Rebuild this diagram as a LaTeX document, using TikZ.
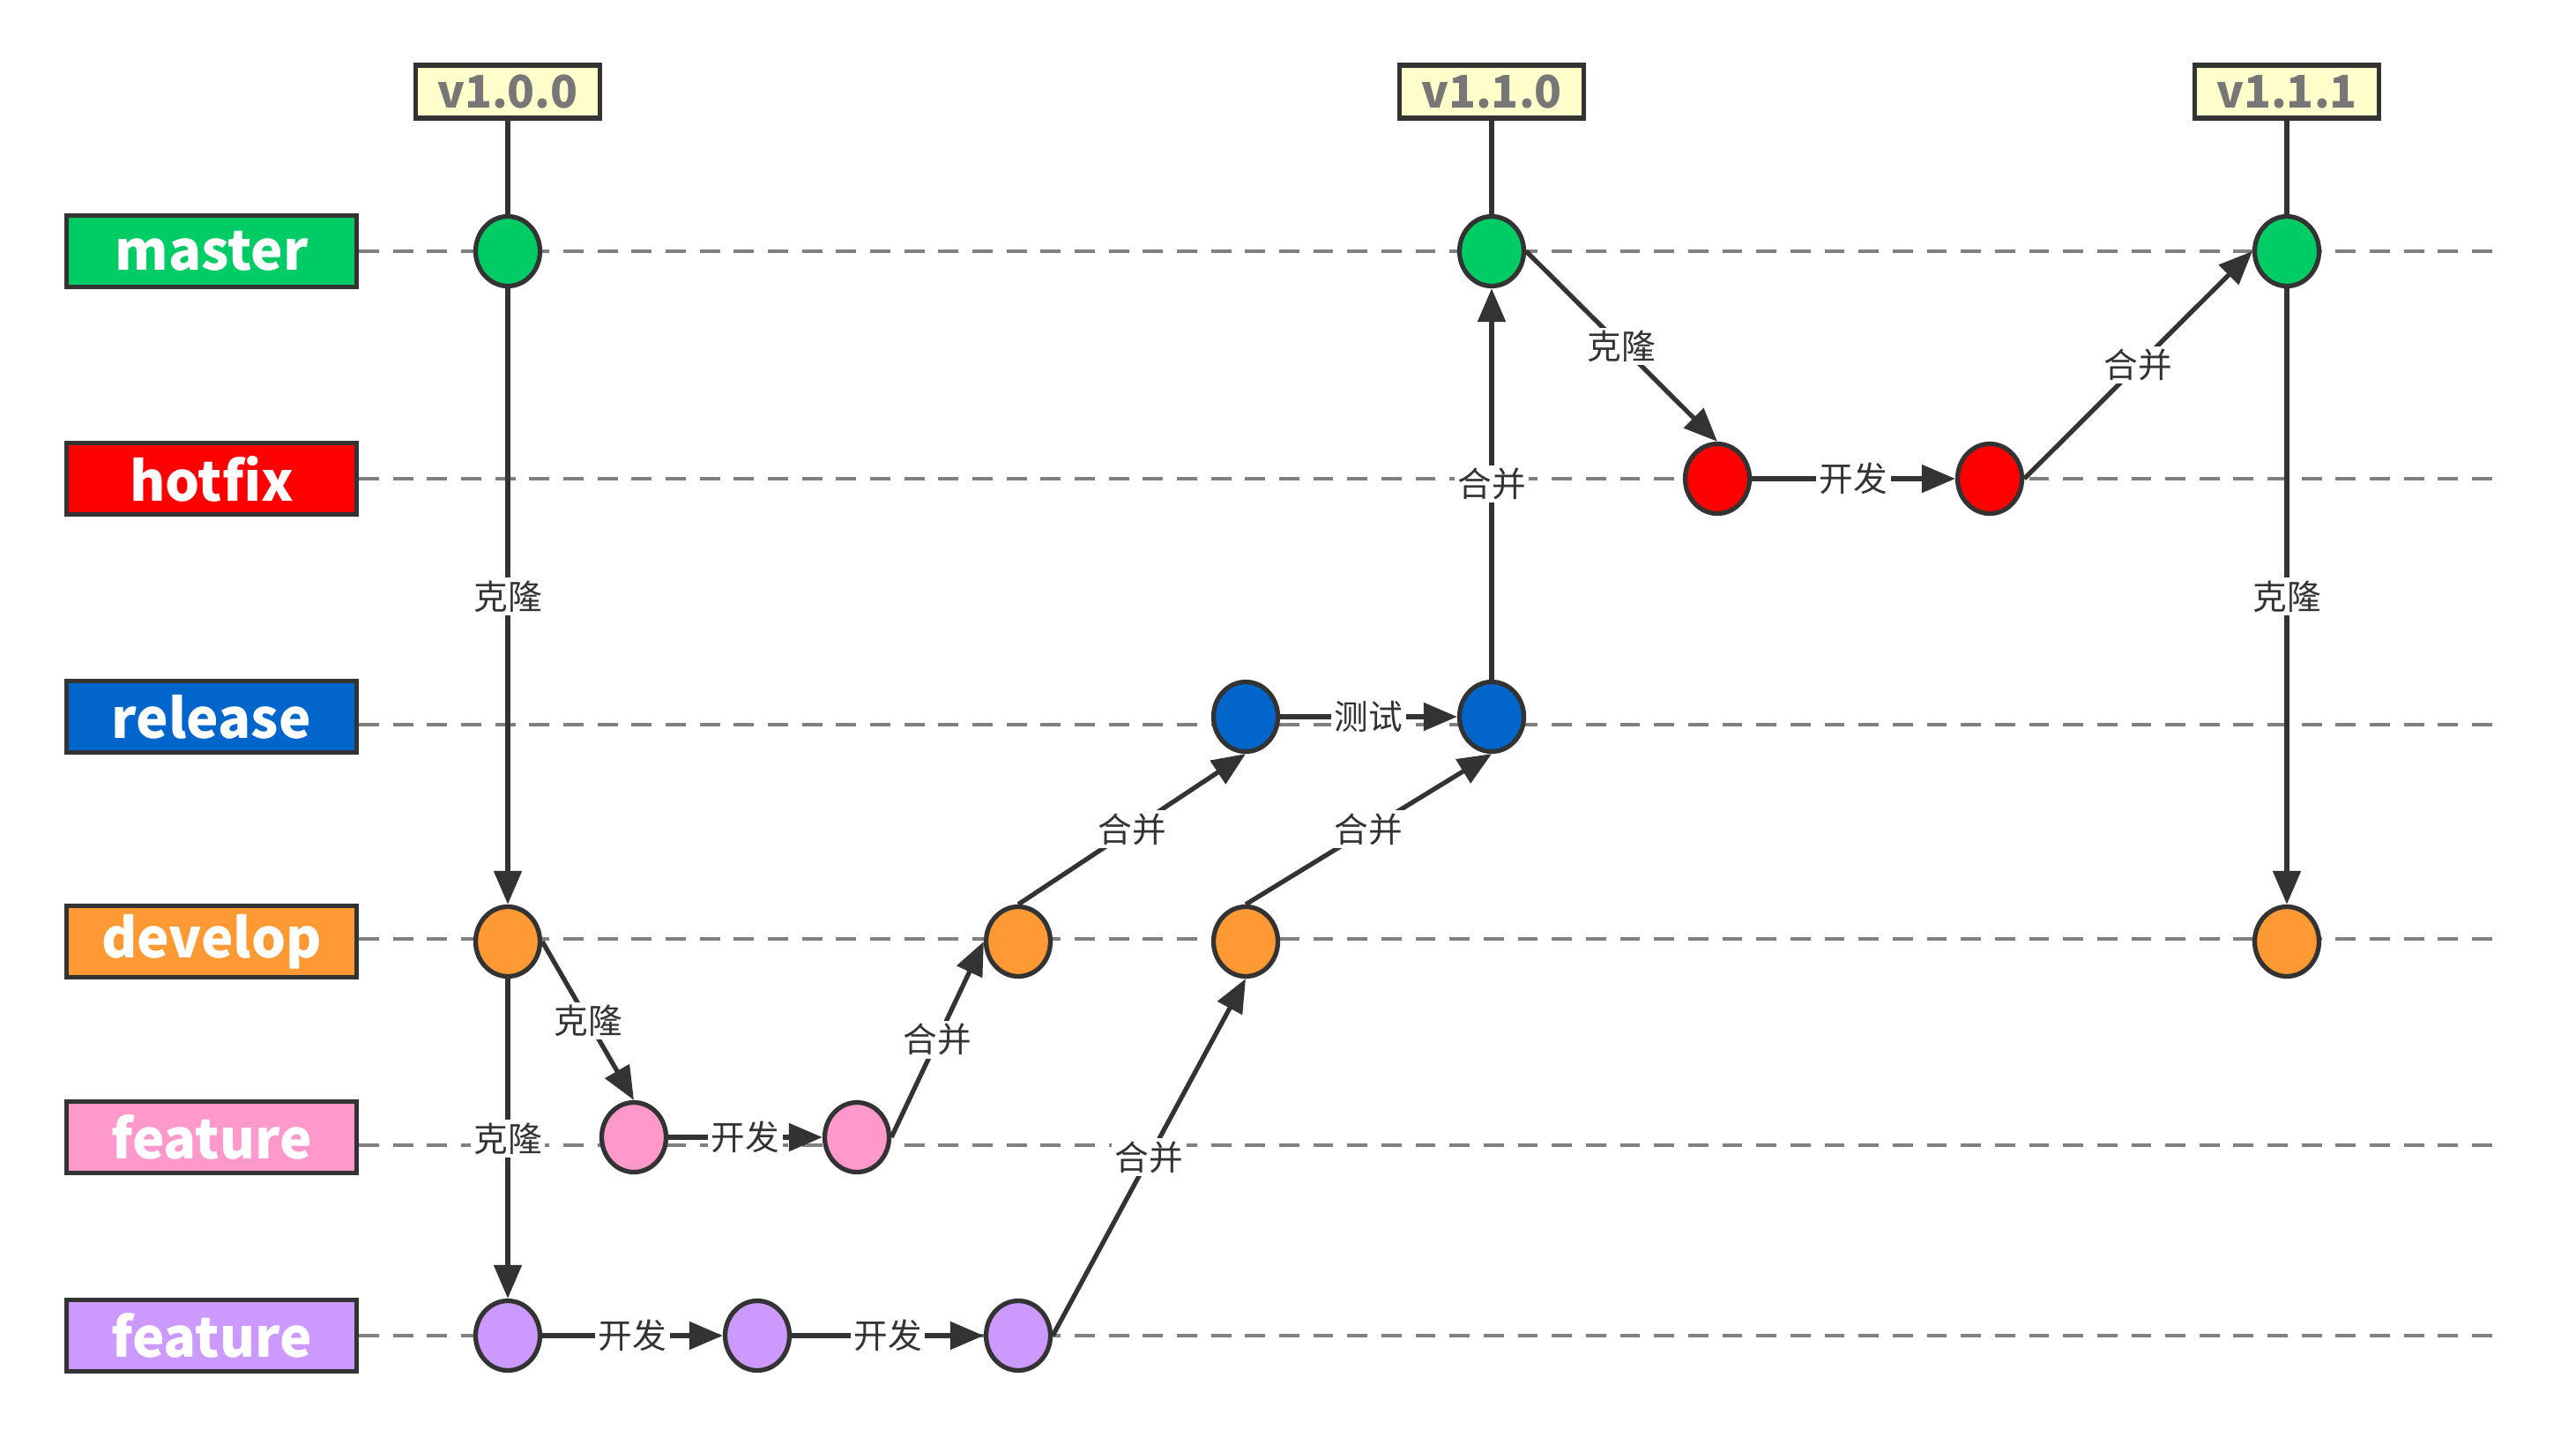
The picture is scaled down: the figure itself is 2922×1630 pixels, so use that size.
\documentclass[tikz,border=0pt]{standalone}
\usepackage{fontspec}
\setmainfont{Noto Sans CJK SC}
\usetikzlibrary{arrows.meta}
\usetikzlibrary{shapes.geometric}

\definecolor{ink}{HTML}{333333}
\definecolor{dashgrey}{HTML}{808080}
\definecolor{tagfill}{HTML}{FFFFCC}
\definecolor{tagtext}{HTML}{777777}
\definecolor{cmaster}{HTML}{00CC66}
\definecolor{chotfix}{HTML}{FF0000}
\definecolor{crelease}{HTML}{0066CC}
\definecolor{cdevelop}{HTML}{FF9933}
\definecolor{cfeata}{HTML}{FF99CC}
\definecolor{cfeatb}{HTML}{CC99FF}

\begin{document}
\begin{tikzpicture}[x=0.1mm,y=-0.1mm]
  \tikzset{branch/.style = {shape=rectangle,draw=ink,line width=1.5pt,fill=#1,minimum width=3.29cm,minimum height=0.81cm,inner sep=0pt,text=white,font=\fontsize{17.5}{17.5}\selectfont\bfseries}}
  \tikzset{commit/.style = {shape=ellipse,draw=ink,line width=1.5pt,fill=#1,minimum width=0.73cm,minimum height=0.79cm,inner sep=0pt}}
  \tikzset{vtag/.style = {shape=rectangle,draw=ink,line width=1.5pt,fill=tagfill,minimum width=2.09cm,minimum height=0.60cm,inner sep=0pt,text=tagtext,font=\fontsize{14.5}{14.5}\selectfont\bfseries}}
  \tikzset{lane/.style = {draw=dashgrey,line width=1pt,dash pattern=on 6.5pt off 4.5pt}}
  \tikzset{stem/.style = {draw=ink,line width=1.5pt}}
  \tikzset{flow/.style = {draw=ink,line width=1.5pt,-{Triangle[length=3.8mm,width=3.1mm]}}}
  \tikzset{lbl/.style = {fill=white,text=ink,inner sep=1pt,font=\fontsize{11}{11}\selectfont}}

  \useasboundingbox (0,0) rectangle (2922,1630);

  % branch labels
  \node[branch=cmaster] (lmaster) at (240,285) {master};
  \node[branch=chotfix] (lhotfix) at (240,543) {hotfix};
  \node[branch=crelease] (lrelease) at (240,813) {release};
  \node[branch=cdevelop] (ldevelop) at (240,1068) {develop};
  \node[branch=cfeata] (lfeata) at (240,1290) {feature};
  \node[branch=cfeatb] (lfeatb) at (240,1515) {feature};

  % lanes
  \coordinate (emaster) at (2838,285);
  \coordinate (ehotfix) at (2838,543);
  \coordinate (erelease) at (2838,822);
  \coordinate (edevelop) at (2838,1065);
  \coordinate (efeata) at (2838,1299);
  \coordinate (efeatb) at (2838,1515);
  \foreach \b in {master,hotfix,release,develop,feata,featb}
    \draw[lane] (l\b.east |- e\b) -- (e\b);

  % tags
  \node[vtag] (T1) at (576,104) {v1.0.0};
  \node[vtag] (T2) at (1692,104) {v1.1.0};
  \node[vtag] (T3) at (2594,104) {v1.1.1};

  % commits
  \node[commit=cmaster] (M1) at (576,285) {};
  \node[commit=cmaster] (M2) at (1692,285) {};
  \node[commit=cmaster] (M3) at (2594,285) {};
  \node[commit=chotfix] (H1) at (1948,543) {};
  \node[commit=chotfix] (H2) at (2257,543) {};
  \node[commit=crelease] (R1) at (1413,813) {};
  \node[commit=crelease] (R2) at (1692,813) {};
  \node[commit=cdevelop] (D1) at (576,1068) {};
  \node[commit=cdevelop] (D2) at (1155,1068) {};
  \node[commit=cdevelop] (D3) at (1413,1068) {};
  \node[commit=cdevelop] (D4) at (2594,1068) {};
  \node[commit=cfeata] (F1) at (719,1290) {};
  \node[commit=cfeata] (F2) at (972,1290) {};
  \node[commit=cfeatb] (G1) at (576,1515) {};
  \node[commit=cfeatb] (G2) at (859,1515) {};
  \node[commit=cfeatb] (G3) at (1155,1515) {};

  \foreach \t/\c in {T1/M1, T2/M2, T3/M3}
    \draw[stem] (\t.south) -- (\c.north);

  \foreach \from/\fa/\to/\ta/\txt in {M1/south/D1/north/克隆, D1/south/G1/north/克隆, D1/east/F1/north/克隆,
      G1/east/G2/west/开发, G2/east/G3/west/开发, F1/east/F2/west/开发,
      F2/east/D2/west/合并, G3/east/D3/south/合并, D2/north/R1/south/合并, D3/north/R2/south/合并,
      R1/east/R2/west/测试, R2/north/M2/south/合并, M2/east/H1/north/克隆,
      H1/east/H2/west/开发, H2/east/M3/west/合并, M3/south/D4/north/克隆}
    \draw[flow] (\from.\fa) -- node[lbl]{\txt} (\to.\ta);

\end{tikzpicture}
\end{document}
